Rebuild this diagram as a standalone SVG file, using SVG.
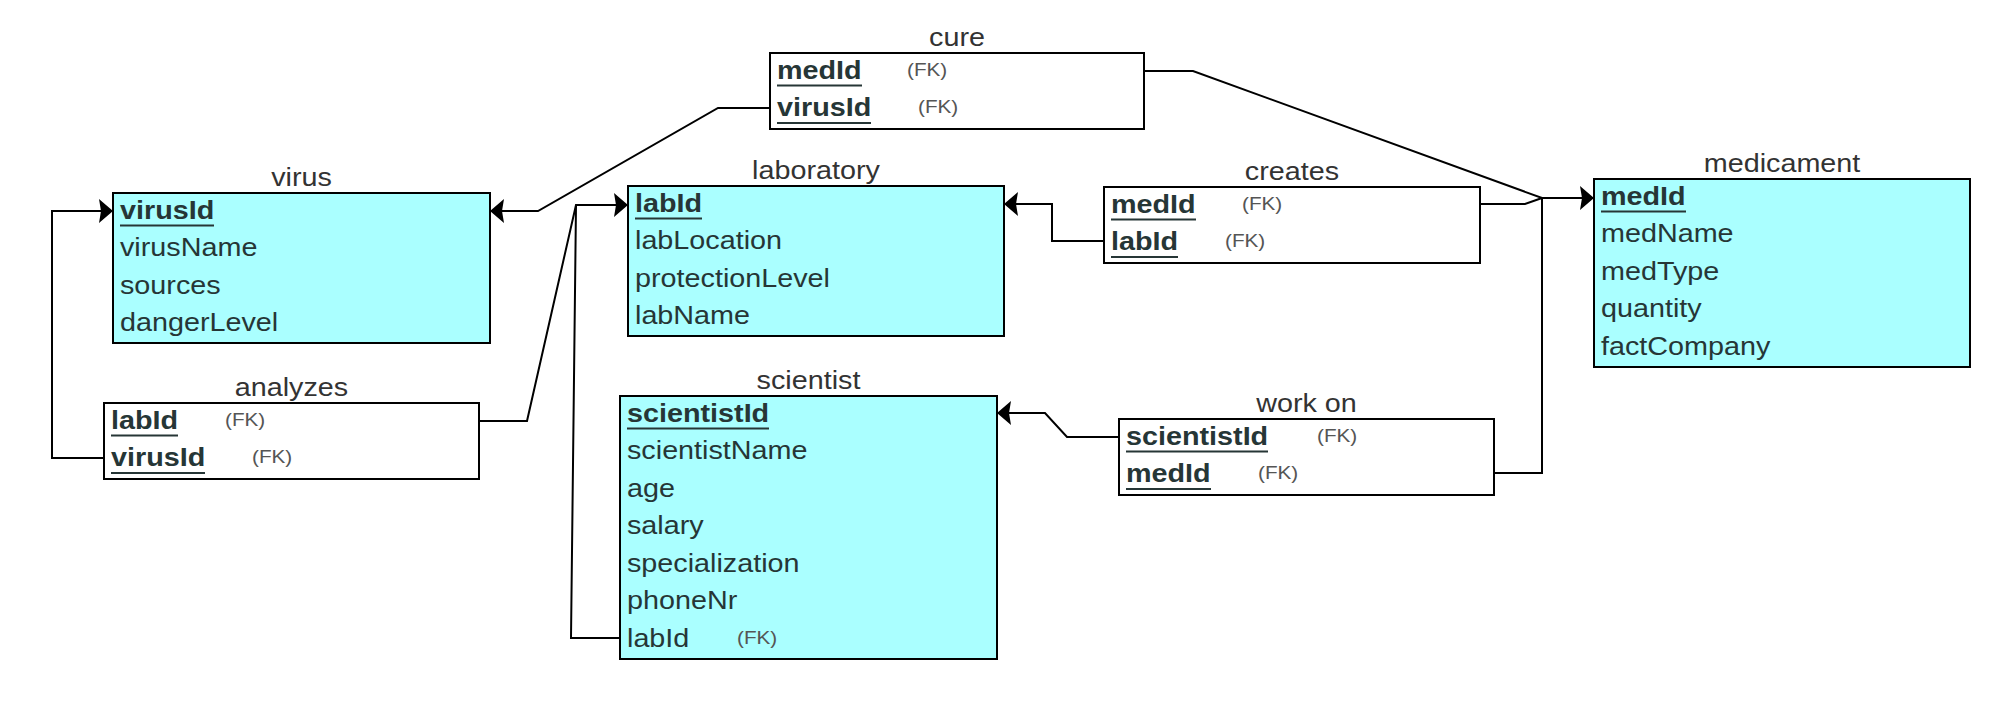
<svg xmlns="http://www.w3.org/2000/svg" width="2015" height="721" viewBox="0 0 2015 721">
<style>
text{font-family:"Liberation Sans",Arial,sans-serif;}
.t{font-size:25px;fill:#333;text-anchor:middle;}
.f{font-size:25px;fill:#263636;}
.pk{font-size:25px;font-weight:bold;fill:#263636;}
.fk{font-size:18px;fill:#555;}
.ent{fill:#aaffff;stroke:#000;stroke-width:2;}
.rel{fill:#fff;stroke:#000;stroke-width:2;}
.ul{stroke:#263636;stroke-width:2;}
.c{fill:none;stroke:#000;stroke-width:2;}
</style>
<defs>
<marker id="arr" viewBox="-1 -13 17 26" markerWidth="17" markerHeight="26" refX="14" refY="0" orient="auto" markerUnits="userSpaceOnUse">
<path d="M14,0 L0,-12 L2,0 L0,12 Z" fill="#000"/>
</marker>
</defs>
<g id="connectors">
<path class="c" d="M770,108 L718,108 L538,211 L490,211" marker-end="url(#arr)"/>
<path class="c" d="M104,458 L52,458 L52,211 L113,211" marker-end="url(#arr)"/>
<path class="c" d="M479,421 L527,421 L576,205 L628,205" marker-end="url(#arr)"/>
<path class="c" d="M620,638 L571,638 L576,205"/>
<path class="c" d="M1104,241 L1052,241 L1052,204 L1004,204" marker-end="url(#arr)"/>
<path class="c" d="M1144,71 L1193,71 L1542,198 L1594,198" marker-end="url(#arr)"/>
<path class="c" d="M1480,204 L1525,204 L1542,198"/>
<path class="c" d="M1494,473 L1542,473 L1542,198"/>
<path class="c" d="M1119,437 L1067,437 L1045,413 L997,413" marker-end="url(#arr)"/>
</g>
<g id="virus">
<text class="t" transform="translate(301.5,186) scale(1.15,1)">virus</text>
<rect class="ent" x="113" y="193" width="377" height="150"/>
<text class="pk" transform="translate(120,218.5) scale(1.15,1)">virusId</text>
<line class="ul" x1="120" y1="225.5" x2="214" y2="225.5"/>
<text class="f" transform="translate(120,256) scale(1.15,1)">virusName</text>
<text class="f" transform="translate(120,293.5) scale(1.15,1)">sources</text>
<text class="f" transform="translate(120,331) scale(1.15,1)">dangerLevel</text>
</g>
<g id="analyzes">
<text class="t" transform="translate(291.5,396) scale(1.15,1)">analyzes</text>
<rect class="rel" x="104" y="403" width="375" height="76"/>
<text class="pk" transform="translate(111,428.5) scale(1.15,1)">labId</text>
<line class="ul" x1="111" y1="435.5" x2="178" y2="435.5"/>
<text class="fk" transform="translate(225,425.5) scale(1.15,1)">(FK)</text>
<text class="pk" transform="translate(111,466) scale(1.15,1)">virusId</text>
<line class="ul" x1="111" y1="473" x2="205" y2="473"/>
<text class="fk" transform="translate(252,463) scale(1.15,1)">(FK)</text>
</g>
<g id="cure">
<text class="t" transform="translate(957,46) scale(1.15,1)">cure</text>
<rect class="rel" x="770" y="53" width="374" height="76"/>
<text class="pk" transform="translate(777,78.5) scale(1.15,1)">medId</text>
<line class="ul" x1="777" y1="85.5" x2="862" y2="85.5"/>
<text class="fk" transform="translate(907,75.5) scale(1.15,1)">(FK)</text>
<text class="pk" transform="translate(777,116) scale(1.15,1)">virusId</text>
<line class="ul" x1="777" y1="123" x2="871" y2="123"/>
<text class="fk" transform="translate(918,113) scale(1.15,1)">(FK)</text>
</g>
<g id="laboratory">
<text class="t" transform="translate(816,179) scale(1.15,1)">laboratory</text>
<rect class="ent" x="628" y="186" width="376" height="150"/>
<text class="pk" transform="translate(635,211.5) scale(1.15,1)">labId</text>
<line class="ul" x1="635" y1="218.5" x2="702" y2="218.5"/>
<text class="f" transform="translate(635,249) scale(1.15,1)">labLocation</text>
<text class="f" transform="translate(635,286.5) scale(1.15,1)">protectionLevel</text>
<text class="f" transform="translate(635,324) scale(1.15,1)">labName</text>
</g>
<g id="creates">
<text class="t" transform="translate(1292,180) scale(1.15,1)">creates</text>
<rect class="rel" x="1104" y="187" width="376" height="76"/>
<text class="pk" transform="translate(1111,212.5) scale(1.15,1)">medId</text>
<line class="ul" x1="1111" y1="219.5" x2="1196" y2="219.5"/>
<text class="fk" transform="translate(1242,209.5) scale(1.15,1)">(FK)</text>
<text class="pk" transform="translate(1111,250) scale(1.15,1)">labId</text>
<line class="ul" x1="1111" y1="257" x2="1178" y2="257"/>
<text class="fk" transform="translate(1225,247) scale(1.15,1)">(FK)</text>
</g>
<g id="medicament">
<text class="t" transform="translate(1782,172) scale(1.15,1)">medicament</text>
<rect class="ent" x="1594" y="179" width="376" height="188"/>
<text class="pk" transform="translate(1601,204.5) scale(1.15,1)">medId</text>
<line class="ul" x1="1601" y1="211.5" x2="1686" y2="211.5"/>
<text class="f" transform="translate(1601,242) scale(1.15,1)">medName</text>
<text class="f" transform="translate(1601,279.5) scale(1.15,1)">medType</text>
<text class="f" transform="translate(1601,317) scale(1.15,1)">quantity</text>
<text class="f" transform="translate(1601,354.5) scale(1.15,1)">factCompany</text>
</g>
<g id="scientist">
<text class="t" transform="translate(808.5,389) scale(1.15,1)">scientist</text>
<rect class="ent" x="620" y="396" width="377" height="263"/>
<text class="pk" transform="translate(627,421.5) scale(1.15,1)">scientistId</text>
<line class="ul" x1="627" y1="428.5" x2="769" y2="428.5"/>
<text class="f" transform="translate(627,459) scale(1.15,1)">scientistName</text>
<text class="f" transform="translate(627,496.5) scale(1.15,1)">age</text>
<text class="f" transform="translate(627,534) scale(1.15,1)">salary</text>
<text class="f" transform="translate(627,571.5) scale(1.15,1)">specialization</text>
<text class="f" transform="translate(627,609) scale(1.15,1)">phoneNr</text>
<text class="f" transform="translate(627,646.5) scale(1.15,1)">labId</text>
<text class="fk" transform="translate(737,643.5) scale(1.15,1)">(FK)</text>
</g>
<g id="work-on">
<text class="t" transform="translate(1306.5,412) scale(1.15,1)">work on</text>
<rect class="rel" x="1119" y="419" width="375" height="76"/>
<text class="pk" transform="translate(1126,444.5) scale(1.15,1)">scientistId</text>
<line class="ul" x1="1126" y1="451.5" x2="1268" y2="451.5"/>
<text class="fk" transform="translate(1317,441.5) scale(1.15,1)">(FK)</text>
<text class="pk" transform="translate(1126,482) scale(1.15,1)">medId</text>
<line class="ul" x1="1126" y1="489" x2="1211" y2="489"/>
<text class="fk" transform="translate(1258,479) scale(1.15,1)">(FK)</text>
</g>
</svg>
